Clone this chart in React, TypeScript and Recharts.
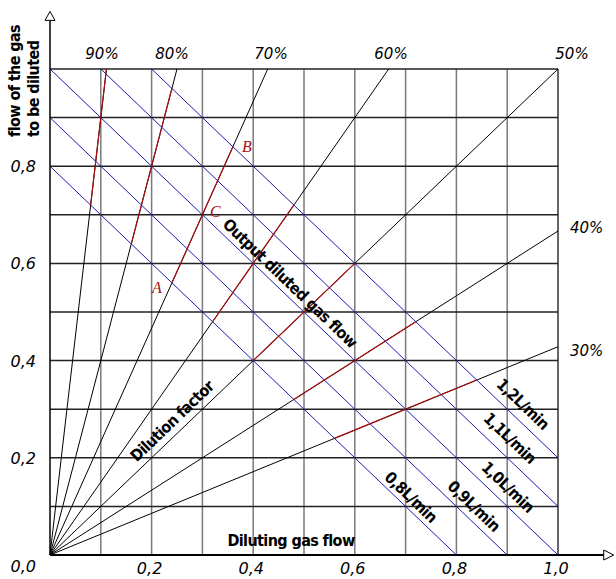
import React from 'react';
import { LineChart, XAxis, YAxis, ReferenceLine, ReferenceDot } from 'recharts';

// ---- data ----
const dilutionFactors = [90, 80, 70, 60, 50, 40, 30]; // % of gas to be diluted in output
const dilutionLabels = ['90%', '80%', '70%', '60%', '50%', '40%', '30%'];
const outputFlows = [0.8, 0.9, 1.0, 1.1, 1.2]; // L/min, x + y
const outputFlowLabels = ['0,8L/min', '0,9L/min', '1,0L/min', '1,1L/min', '1,2L/min'];
const highlightFlowRange = [0.8, 1.2];
const gridValues = [0.1, 0.2, 0.3, 0.4, 0.5, 0.6, 0.7, 0.8, 0.9, 1.0];
const xTicks = [0.2, 0.4, 0.6, 0.8, 1.0];
const yTicks = [0, 0.2, 0.4, 0.6, 0.8];
const pointNames = ['A', 'C', 'B'];
const pointFactor = 70;
const pointFlows = [0.8, 1.0, 1.2];
const axisArrowX = 1.09;
const axisArrowY = 1.1;

const fmt = (v: number) => v.toFixed(1).replace('.', ',');

// geometry helpers (clip to [0,1] box)
const factorEnd = (p: number) => {
  const k = p / (100 - p);
  return k >= 1 ? { x: 1 / k, y: 1 } : { x: 1, y: k };
};
const flowSegment = (f: number) =>
  f <= 1
    ? [{ x: 0, y: f }, { x: f, y: 0 }]
    : [{ x: f - 1, y: 1 }, { x: 1, y: f - 1 }];
const pointOn = (p: number, f: number) => {
  let x = (f * (100 - p)) / 100;
  let y = (f * p) / 100;
  if (y > 1) {
    x = x / y;
    y = 1;
  }
  return { x, y };
};

const W = 616;
const H = 579;
const italicFont = '"DejaVu Sans", sans-serif';
const boldFont = '"DejaVu Sans Condensed", "DejaVu Sans", sans-serif';
const RED = '#a81010';
const BLUE = '#1c1cb0';
const BOLD_SIZE = 16;
const BOLD_SPACING = -0.6;

const YTick = (props: any) => {
  const { y, payload } = props;
  const v = payload.value;
  return (
    <text x={36} y={y + (v === 0 ? 17 : 6)} textAnchor="end" fontFamily={italicFont} fontStyle="italic" fontSize={16} fill="#000">
      {fmt(v)}
    </text>
  );
};
const XTick = (props: any) => {
  const { x, payload } = props;
  return (
    <text x={x - 2} y={574} textAnchor="middle" fontFamily={italicFont} fontStyle="italic" fontSize={16} fill="#000">
      {fmt(payload.value)}
    </text>
  );
};

const ArrowUp = (props: any) => {
  const { cx, cy } = props;
  return <polygon points={`${cx - 5},${cy} ${cx + 5},${cy} ${cx},${cy - 9}`} fill="#fff" stroke="#000" strokeWidth={1} />;
};
const ArrowRight = (props: any) => {
  const { cx, cy } = props;
  return <polygon points={`${cx},${cy - 5} ${cx},${cy + 5} ${cx + 10},${cy}`} fill="#fff" stroke="#000" strokeWidth={1} />;
};

const pointOffsets: Record<string, [number, number]> = { A: [-15, 10], C: [13, 2], B: [14, 5] };
const PointLabel = (name: string) => (props: any) => {
  const { cx, cy } = props;
  const [dx, dy] = pointOffsets[name];
  return (
    <text x={cx + dx} y={cy + dy} textAnchor="middle" fontFamily='"Liberation Serif", serif' fontStyle="italic" fontSize={16} fill={RED}>
      {name}
    </text>
  );
};

const percentPos: [number, number, string][] = [
  [102, 59, 'middle'],
  [172, 59, 'middle'],
  [271, 59, 'middle'],
  [391, 59, 'middle'],
  [572, 59, 'middle'],
  [570, 233, 'start'],
  [570, 356, 'start'],
];
const flowLabelPos: [number, number][] = [
  [411, 497],
  [474, 506],
  [508, 487],
  [510, 438],
  [523, 404],
];
const ANGLE = 43.7;

export default function App() {
  const data = [{ x: 0, y: 0 }, { x: 1, y: 1 }];
  const boldProps = { fontFamily: boldFont, fontWeight: 'bold' as const, fontSize: BOLD_SIZE, letterSpacing: BOLD_SPACING, fill: '#000' };
  return (
    <div style={{ position: 'absolute', left: 0, top: 0, width: W, height: H, background: '#fff' }}>
      <LineChart width={W} height={H} data={data} margin={{ top: 69, right: 58, bottom: 0, left: 0 }}>
        <XAxis dataKey="x" type="number" domain={[0, 1]} allowDataOverflow ticks={xTicks} height={24} axisLine={false} tickLine={false} tick={<XTick />} />
        <YAxis dataKey="y" type="number" domain={[0, 1]} allowDataOverflow ticks={yTicks} width={50} axisLine={false} tickLine={false} tick={<YTick />} />
        {gridValues.map((v) => (
          <ReferenceLine key={'v' + v} segment={[{ x: v, y: 0 }, { x: v, y: 1 }]} stroke={v === 1 ? '#333' : '#7a7a7a'} strokeWidth={1.5} ifOverflow="visible" />
        ))}
        {gridValues.map((v) => (
          <ReferenceLine key={'h' + v} segment={[{ x: 0, y: v }, { x: 1, y: v }]} stroke="#222" strokeWidth={1.5} ifOverflow="visible" />
        ))}
        {dilutionFactors.map((p) => (
          <ReferenceLine key={'d' + p} segment={[{ x: 0, y: 0 }, factorEnd(p)]} stroke="#000" strokeWidth={1} ifOverflow="visible" />
        ))}
        {outputFlows.map((f) => (
          <ReferenceLine key={'f' + f} segment={flowSegment(f)} stroke={BLUE} strokeWidth={1} ifOverflow="visible" />
        ))}
        {dilutionFactors.map((p) => (
          <ReferenceLine
            key={'r' + p}
            segment={[pointOn(p, highlightFlowRange[0]), pointOn(p, highlightFlowRange[1])]}
            stroke={RED}
            strokeWidth={1.2}
            ifOverflow="visible"
          />
        ))}
        <ReferenceLine segment={[{ x: 0, y: 0 }, { x: axisArrowX, y: 0 }]} stroke="#000" strokeWidth={2} ifOverflow="visible" />
        <ReferenceLine segment={[{ x: 0, y: 0 }, { x: 0, y: axisArrowY }]} stroke="#000" strokeWidth={1.5} ifOverflow="visible" />
        <ReferenceDot x={0} y={axisArrowY} r={0} ifOverflow="visible" shape={<ArrowUp />} />
        <ReferenceDot x={axisArrowX} y={0} r={0} ifOverflow="visible" shape={<ArrowRight />} />
        {pointNames.map((n, i) => {
          const pt = pointOn(pointFactor, pointFlows[i]);
          return <ReferenceDot key={n} x={pt.x} y={pt.y} r={0} ifOverflow="visible" shape={PointLabel(n)} />;
        })}
      </LineChart>
      <svg width={W} height={H} style={{ position: 'absolute', left: 0, top: 0, pointerEvents: 'none' }}>
        {dilutionLabels.map((t, i) => (
          <text key={t} x={percentPos[i][0]} y={percentPos[i][1]} textAnchor={percentPos[i][2] as any} fontFamily={italicFont} fontStyle="italic" fontSize={15} fill="#000">
            {t}
          </text>
        ))}
        <text transform="translate(20,137) rotate(-90)" {...boldProps}>
          flow of the gas
        </text>
        <text transform="translate(39,137) rotate(-90)" {...boldProps}>
          to be diluted
        </text>
        <text x={291} y={546} textAnchor="middle" {...boldProps}>
          Diluting gas flow
        </text>
        <text transform={`translate(172,421) rotate(${-ANGLE})`} dy="0.35em" textAnchor="middle" {...boldProps}>
          Dilution factor
        </text>
        <text transform={`translate(290,283) rotate(${ANGLE})`} dy="0.35em" textAnchor="middle" {...boldProps}>
          Output diluted gas flow
        </text>
        {outputFlowLabels.map((t, i) => (
          <text key={t} transform={`translate(${flowLabelPos[i][0]},${flowLabelPos[i][1]}) rotate(${ANGLE})`} dy="0.35em" textAnchor="middle" {...boldProps}>
            {t}
          </text>
        ))}
      </svg>
    </div>
  );
}
